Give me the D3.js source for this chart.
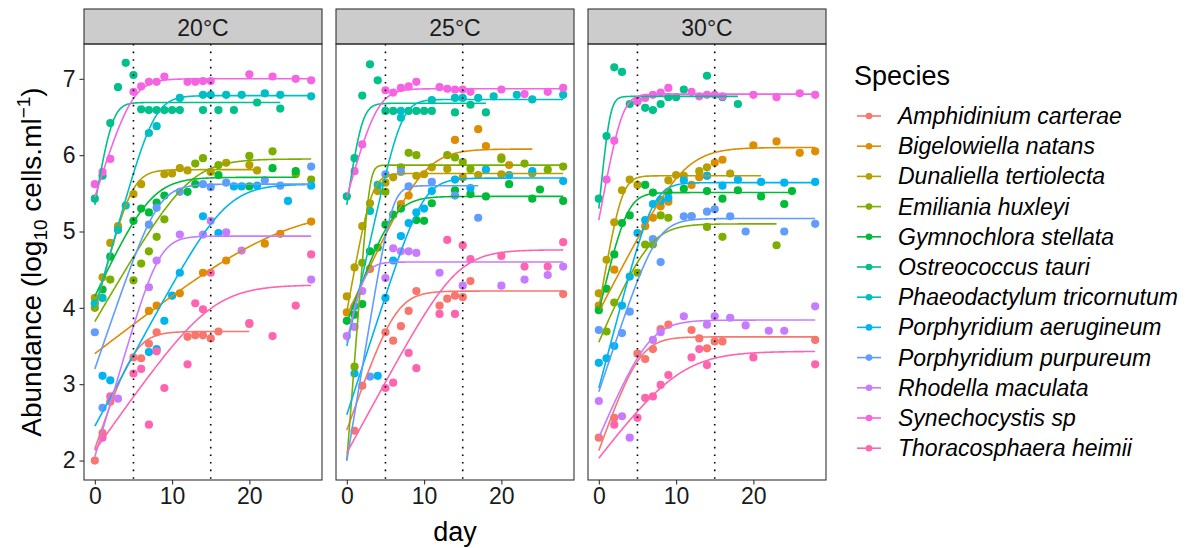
<!DOCTYPE html>
<html>
<head>
<meta charset="utf-8">
<script src="https://cdn.jsdelivr.net/npm/d3@7"></script>
<style>
  body { margin: 0; background: #fff; }
  text { font-family: "Liberation Sans", Arial, sans-serif; }
</style>
</head>
<body>
<script>
var species = ["Amphidinium carterae", "Bigelowiella natans", "Dunaliella tertiolecta",
  "Emiliania huxleyi", "Gymnochlora stellata", "Ostreococcus tauri",
  "Phaeodactylum tricornutum", "Porphyridium aerugineum", "Porphyridium purpureum",
  "Rhodella maculata", "Synechocystis sp", "Thoracosphaera heimii"];

var temps = ["20°C", "25°C", "30°C"];
var dayTicks = [0, 10, 20];
var abundanceTicks = [2, 3, 4, 5, 6, 7];
var markerDays = [5, 15];

var palette = ["#F8766D", "#DE8C00", "#B79F00", "#7CAE00", "#00BA38", "#00C08B",
  "#00BFC4", "#00B4F0", "#619CFF", "#C77CFF", "#F564E3", "#FF64B0"];

// observations: [day, log10 abundance]
var obs20 = {
  "Amphidinium carterae": [[0,2.0],[1,2.36],[2,2.77],[5,3.35],[6,3.34],[7,3.53],[8,3.68],[12,3.62],[13,3.64],[14,3.64],[15,3.60],[16,3.69],[20,3.79]],
  "Bigelowiella natans": [[7,3.96],[8,4.03],[11,4.19],[14,4.46],[17,4.62],[22,4.84],[24,4.97],[28,5.13]],
  "Dunaliella tertiolecta": [[0,4.13],[1,4.40],[2,4.85],[3,5.07],[5,5.49],[6,5.62],[9,5.75],[10,5.76],[11,5.83],[12,5.80],[15,5.78],[17,5.90],[20,5.87],[21,5.80]],
  "Emiliania huxleyi": [[0,4.0],[2,4.37],[5,4.36],[6,4.58],[7,4.74],[8,4.93],[9,5.16],[13,5.89],[14,5.96],[16,5.87],[20,5.99],[23,6.05],[26,5.75],[28,5.68]],
  "Gymnochlora stellata": [[1,4.24],[2,4.67],[5,5.14],[6,5.30],[7,5.25],[8,5.38],[9,5.47],[12,5.52],[13,5.62],[16,5.74],[20,5.59],[23,5.83],[26,5.79]],
  "Ostreococcus tauri": [[0,5.43],[1,5.73],[2,6.42],[3,6.89],[4,7.21],[5,7.05],[6,6.60],[7,6.59],[8,6.59],[9,6.59],[10,6.59],[11,6.59],[14,6.59],[16,6.59],[18,6.59],[21,6.69],[24,6.61]],
  "Phaeodactylum tricornutum": [[0,4.06],[1,4.13],[3,5.02],[4,5.34],[7,6.29],[8,6.38],[11,6.75],[14,6.79],[15,6.79],[17,6.79],[19,6.79],[22,6.81],[24,6.79],[28,6.77]],
  "Porphyridium aerugineum": [[1,3.11],[2,3.05],[7,3.42],[8,3.46],[9,3.83],[10,4.16],[11,4.46],[14,5.20],[16,4.98],[18,5.59],[19,5.59],[21,5.60],[25,5.40],[28,5.60]],
  "Porphyridium purpureum": [[0,3.68],[1,2.69],[7,5.09],[8,5.31],[11,5.52],[14,5.62],[15,5.58],[17,5.64],[22,5.67],[24,5.60],[28,5.85]],
  "Rhodella maculata": [[3,2.81],[7,4.27],[8,4.62],[11,4.96],[14,4.96],[15,5.14],[17,4.99],[19,4.75],[28,4.37]],
  "Synechocystis sp": [[0,5.62],[1,5.78],[2,5.95],[5,6.83],[6,6.90],[7,6.96],[8,6.96],[9,7.03],[12,6.96],[13,6.96],[14,6.97],[15,6.97],[20,7.06],[23,7.03],[26,7.0],[28,6.98]],
  "Thoracosphaera heimii": [[1,2.30],[2,2.84],[5,3.14],[6,3.20],[7,2.47],[8,3.43],[9,2.95],[12,3.26],[13,4.06],[14,3.98],[15,4.46],[20,3.80],[23,3.63],[26,4.03],[28,4.70]]
};

var obs25 = {
  "Amphidinium carterae": [[1,2.39],[2,2.98],[5,3.68],[6,3.57],[7,3.76],[8,3.96],[9,4.22],[12,4.03],[13,4.12],[14,4.16],[15,4.14],[16,4.35],[28,4.18]],
  "Bigelowiella natans": [[0,3.94],[3,4.51],[7,5.36],[8,5.47],[14,6.20],[17,6.34],[18,6.12],[20,5.97],[21,5.87]],
  "Dunaliella tertiolecta": [[0,4.15],[1,4.53],[2,5.07],[3,5.37],[4,5.53],[5,5.64],[6,5.71],[9,5.73],[10,5.75],[11,5.84],[13,5.82],[15,5.71],[17,5.74],[20,5.75],[24,5.76]],
  "Emiliania huxleyi": [[1,3.23],[2,4.59],[5,5.52],[7,5.84],[8,6.03],[9,6.0],[13,6.0],[14,5.97],[15,5.91],[16,5.82],[20,5.95],[23,5.89],[26,5.81],[28,5.85]],
  "Gymnochlora stellata": [[0,3.83],[1,3.91],[2,4.05],[3,4.74],[4,4.79],[5,5.09],[6,5.22],[7,5.30],[9,5.15],[10,5.14],[11,5.37],[14,5.54],[16,5.49],[18,5.46],[21,5.62],[24,5.43],[25,5.55],[28,5.40]],
  "Ostreococcus tauri": [[0,5.46],[1,5.96],[2,6.78],[3,7.19],[4,6.98],[5,6.58],[6,6.58],[8,6.58],[9,6.58],[10,6.58],[11,6.58],[14,6.56],[16,6.66],[18,6.56]],
  "Phaeodactylum tricornutum": [[1,4.02],[3,5.27],[4,5.61],[7,6.49],[7,6.58],[11,6.72],[14,6.75],[15,6.75],[17,6.75],[19,6.77],[22,6.79],[24,6.73],[28,6.79]],
  "Porphyridium aerugineum": [[1,3.14],[4,3.11],[5,4.13],[6,4.62],[7,4.94],[8,5.11],[9,5.25],[10,5.30],[11,5.53],[14,5.68],[16,5.57],[18,5.81],[21,5.74],[24,5.79],[28,5.66]],
  "Porphyridium purpureum": [[3,3.10],[5,5.75],[7,5.78],[8,5.59],[11,5.65],[14,5.47],[17,5.18]],
  "Rhodella maculata": [[0,3.63],[1,3.75],[2,4.22],[5,4.39],[6,4.78],[7,4.74],[8,4.74],[9,4.72],[12,4.46],[15,4.29],[20,4.29],[23,4.37],[26,4.43],[28,4.54]],
  "Synechocystis sp": [[1,5.79],[2,6.14],[5,6.85],[6,6.82],[7,6.88],[8,6.90],[9,6.96],[12,6.89],[13,6.87],[14,6.86],[15,6.86],[16,6.83],[20,6.86],[23,6.80],[26,6.83],[28,6.88]],
  "Thoracosphaera heimii": [[5,2.95],[6,3.02],[8,3.41],[9,3.21],[12,3.92],[13,4.89],[14,3.92],[15,4.82],[16,4.64],[20,4.68],[23,4.54],[26,4.54],[28,4.86]]
};

var obs30 = {
  "Amphidinium carterae": [[0,2.30],[2,2.56],[5,3.40],[6,3.33],[7,3.46],[8,3.72],[9,3.78],[12,3.71],[13,3.60],[14,3.47],[15,3.56],[16,3.56],[28,3.58]],
  "Bigelowiella natans": [[0,4.03],[2,4.50],[6,5.07],[7,5.18],[8,5.33],[9,5.39],[12,5.61],[13,5.71],[14,5.73],[15,5.90],[16,5.94],[20,6.13],[23,6.18],[26,6.03],[28,6.05]],
  "Dunaliella tertiolecta": [[0,4.19],[1,4.63],[2,5.12],[3,5.54],[4,5.68],[5,5.61],[9,5.67],[10,5.74],[11,5.73],[13,5.79],[14,5.84],[17,5.76]],
  "Emiliania huxleyi": [[1,3.69],[2,4.07],[5,4.46],[6,4.83],[7,4.83],[8,5.21],[9,5.18],[12,5.20],[14,5.06],[16,4.93],[23,4.82]],
  "Gymnochlora stellata": [[0,3.97],[1,4.25],[2,4.70],[3,5.11],[4,5.21],[6,5.61],[7,5.51],[8,5.41],[9,5.52],[11,5.56],[14,5.53],[16,5.43],[18,5.54],[21,5.46],[24,5.36],[25,5.53]],
  "Ostreococcus tauri": [[0,5.43],[1,6.25],[2,7.15],[3,7.09],[4,6.67],[5,6.71],[6,6.62],[7,6.59],[8,6.67],[9,6.76],[10,6.76],[11,6.86],[14,7.04],[16,6.76],[18,6.67]],
  "Phaeodactylum tricornutum": [],
  "Porphyridium aerugineum": [[0,3.28],[1,3.34],[2,3.50],[3,4.03],[4,4.41],[5,4.98],[6,5.15],[7,5.36],[8,5.40],[9,5.44],[11,5.67],[14,5.73],[16,5.60],[18,5.68],[21,5.65],[24,5.64],[28,5.65]],
  "Porphyridium purpureum": [[0,3.71],[3,3.67],[4,3.95],[7,4.90],[8,4.60],[11,5.20],[12,5.20],[14,5.26],[15,5.29],[17,5.20],[19,5.0],[24,5.0],[28,5.10]],
  "Rhodella maculata": [[0,2.78],[3,2.58],[4,2.30],[7,3.58],[8,3.68],[11,3.89],[14,3.78],[15,3.89],[17,3.87],[19,3.77],[22,3.70],[24,3.70],[28,4.02]],
  "Synechocystis sp": [[1,5.68],[2,6.19],[5,6.70],[6,6.75],[7,6.79],[8,6.82],[9,6.88],[12,6.83],[13,6.77],[14,6.79],[15,6.79],[16,6.77],[20,6.79],[23,6.76],[26,6.81],[28,6.79]],
  "Thoracosphaera heimii": [[2,2.47],[5,2.56],[6,2.82],[7,2.84],[8,2.99],[9,3.12],[12,3.35],[13,3.46],[14,3.25],[20,3.35],[28,3.26]]
};

// fitted logistic growth: [log10 N0, log10 K, r (1/day), last day]
var fit20 = {
  "Amphidinium carterae": [2.15, 3.69, 0.70, 20],
  "Bigelowiella natans": [3.40, 5.30, 0.18, 28],
  "Dunaliella tertiolecta": [3.95, 5.81, 0.90, 21],
  "Emiliania huxleyi": [3.82, 5.95, 0.40, 28],
  "Gymnochlora stellata": [4.15, 5.71, 0.50, 26],
  "Ostreococcus tauri": [5.35, 6.69, 1.40, 24],
  "Phaeodactylum tricornutum": [4.00, 6.78, 0.83, 28],
  "Porphyridium aerugineum": [2.45, 5.62, 0.43, 28],
  "Porphyridium purpureum": [3.20, 5.62, 0.68, 28],
  "Rhodella maculata": [2.05, 4.94, 0.80, 28],
  "Synechocystis sp": [5.45, 7.00, 0.75, 28],
  "Thoracosphaera heimii": [2.13, 4.30, 0.33, 28]
};

var fit25 = {
  "Amphidinium carterae": [2.40, 4.22, 0.66, 28],
  "Bigelowiella natans": [3.90, 6.08, 0.50, 24],
  "Dunaliella tertiolecta": [3.95, 5.76, 1.30, 28],
  "Emiliania huxleyi": [2.00, 5.87, 3.00, 28],
  "Gymnochlora stellata": [3.80, 5.46, 0.65, 28],
  "Ostreococcus tauri": [5.35, 6.68, 1.60, 18],
  "Phaeodactylum tricornutum": [3.50, 6.73, 1.05, 28],
  "Porphyridium aerugineum": [2.60, 5.70, 0.72, 28],
  "Porphyridium purpureum": [2.00, 5.60, 1.40, 17],
  "Rhodella maculata": [3.55, 4.60, 1.20, 28],
  "Synechocystis sp": [5.45, 6.87, 0.85, 28],
  "Thoracosphaera heimii": [2.10, 4.76, 0.43, 28]
};

var fit30 = {
  "Amphidinium carterae": [2.13, 3.62, 0.66, 28],
  "Bigelowiella natans": [3.95, 6.10, 0.45, 28],
  "Dunaliella tertiolecta": [4.00, 5.73, 1.35, 21],
  "Emiliania huxleyi": [3.55, 5.10, 0.55, 23],
  "Gymnochlora stellata": [3.95, 5.51, 1.00, 25],
  "Ostreococcus tauri": [5.30, 6.77, 2.40, 18],
  "Porphyridium aerugineum": [2.95, 5.64, 0.88, 28],
  "Porphyridium purpureum": [2.90, 5.17, 0.70, 28],
  "Rhodella maculata": [2.30, 3.84, 0.55, 28],
  "Synechocystis sp": [5.15, 6.80, 1.27, 28],
  "Thoracosphaera heimii": [2.03, 3.43, 0.31, 28]
};

var obsByTemp = [obs20, obs25, obs30];
var fitByTemp = [fit20, fit25, fit30];

function logistic(p, t) {
  return p[1] - Math.log10(1 + (Math.pow(10, p[1] - p[0]) - 1) * Math.exp(-p[2] * t));
}

var width = 1195, height = 548;
var panelW = 238, panelGap = 14, plotLeft = 84, plotTop = 44, plotBottom = 480, stripTop = 9;
var plotH = plotBottom - plotTop;

var colour = d3.scaleOrdinal().domain(species).range(palette);

var x = d3.scaleLinear().domain([-1.4, 29.4]).range([0, panelW]);
var y = d3.scaleLinear().domain([1.745, 7.456]).range([plotH, 0]);

var line = d3.line()
    .x(function(d) { return x(d[0]); })
    .y(function(d) { return y(d[1]); });

var svg = d3.select("body").append("svg")
    .attr("width", width)
    .attr("height", height);

svg.append("rect").attr("width", width).attr("height", height).attr("fill", "#fff");

temps.forEach(function(temp, i) {
  var g = svg.append("g")
      .attr("transform", "translate(" + (plotLeft + i * (panelW + panelGap)) + "," + plotTop + ")");

  // strip
  g.append("rect")
      .attr("x", 0).attr("y", stripTop - plotTop)
      .attr("width", panelW).attr("height", plotTop - stripTop)
      .attr("fill", "#cccccc").attr("stroke", "#333").attr("stroke-width", 1.1);
  g.append("text")
      .attr("x", panelW / 2).attr("y", stripTop - plotTop + 26.5)
      .attr("text-anchor", "middle")
      .attr("font-size", 23).attr("fill", "#1a1a1a")
      .text(temp);

  var obs = obsByTemp[i], fit = fitByTemp[i];

  species.forEach(function(s) {
    g.selectAll(null).data(obs[s] || []).enter().append("circle")
        .attr("cx", function(d) { return x(d[0]); })
        .attr("cy", function(d) { return y(d[1]); })
        .attr("r", 4.1)
        .attr("fill", colour(s));
  });

  species.forEach(function(s) {
    var p = fit[s];
    if (!p) return;
    var pts = d3.range(0, p[3] + 0.001, 0.1).map(function(t) { return [t, logistic(p, t)]; });
    g.append("path")
        .attr("d", line(pts))
        .attr("fill", "none")
        .attr("stroke", colour(s))
        .attr("stroke-width", 1.6);
  });

  g.selectAll(null).data(markerDays).enter().append("line")
      .attr("x1", function(d) { return x(d); }).attr("x2", function(d) { return x(d); })
      .attr("y1", 0).attr("y2", plotH)
      .attr("stroke", "#000").attr("stroke-width", 1.6)
      .attr("stroke-dasharray", "1.6,6");

  g.append("rect")
      .attr("width", panelW).attr("height", plotH)
      .attr("fill", "none").attr("stroke", "#333").attr("stroke-width", 1.1);

  var xa = g.append("g")
      .attr("transform", "translate(0," + plotH + ")")
      .call(d3.axisBottom(x).tickValues(dayTicks).tickSize(4.5).tickPadding(3));
  xa.select(".domain").remove();
  xa.selectAll("line").attr("stroke", "#333").attr("stroke-width", 1.1);
  xa.selectAll("text").attr("font-size", 23).attr("fill", "#1a1a1a")
      .attr("font-family", "Liberation Sans, Arial, sans-serif");

  if (i === 0) {
    var ya = g.append("g")
        .call(d3.axisLeft(y).tickValues(abundanceTicks).tickFormat(d3.format("d"))
          .tickSize(4.5).tickPadding(4));
    ya.select(".domain").remove();
    ya.selectAll("line").attr("stroke", "#333").attr("stroke-width", 1.1);
    ya.selectAll("text").attr("font-size", 23).attr("fill", "#1a1a1a")
        .attr("font-family", "Liberation Sans, Arial, sans-serif");
  }
});

// axis titles
svg.append("text")
    .attr("x", plotLeft + (3 * panelW + 2 * panelGap) / 2).attr("y", 541)
    .attr("text-anchor", "middle").attr("font-size", 27).attr("fill", "#000")
    .text("day");

var yt = svg.append("text")
    .attr("transform", "translate(41," + ((plotTop + plotBottom) / 2) + ") rotate(-90)")
    .attr("text-anchor", "middle").attr("font-size", 28).attr("fill", "#000");
yt.append("tspan").text("Abundance (log");
yt.append("tspan").attr("font-size", 19).attr("dy", 6).text("10");
yt.append("tspan").attr("dy", -6).text(" cells.ml");
yt.append("tspan").attr("font-size", 19).attr("dy", -11).text("\u22121");
yt.append("tspan").attr("dy", 11).text(")");

// legend
var lg = svg.append("g").attr("transform", "translate(854,0)");
lg.append("text").attr("x", 0).attr("y", 85)
    .attr("font-size", 27).attr("fill", "#000").text("Species");

var item = lg.selectAll("g.item").data(species).enter().append("g")
    .attr("class", "item")
    .attr("transform", function(d, i) { return "translate(0," + (116 + i * 30.2) + ")"; });
item.append("line").attr("x1", 3).attr("x2", 27)
    .attr("stroke", function(d) { return colour(d); }).attr("stroke-width", 1.6);
item.append("circle").attr("cx", 15).attr("r", 3.3)
    .attr("fill", function(d) { return colour(d); });
item.append("text").attr("x", 44).attr("y", 8)
    .attr("font-size", 23).attr("font-style", "italic").attr("fill", "#000")
    .text(function(d) { return d; });
</script>
</body>
</html>
